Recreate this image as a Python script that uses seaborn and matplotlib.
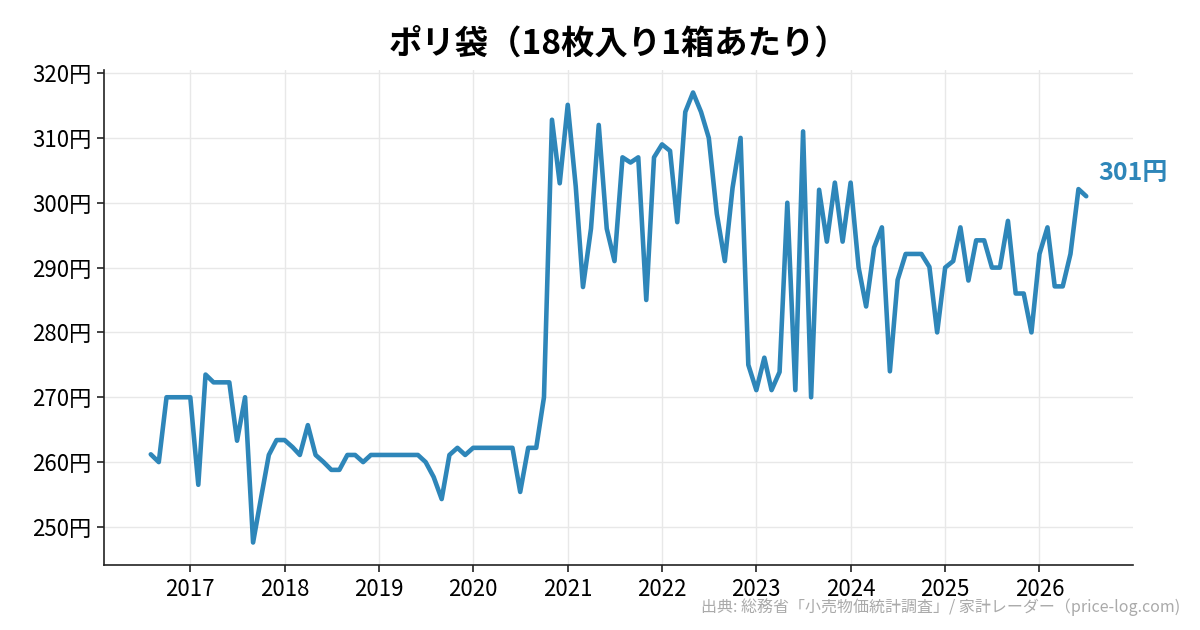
import numpy as np
import pandas as pd
import matplotlib
matplotlib.use("Agg")
import matplotlib.pyplot as plt
import matplotlib.dates as mdates
from matplotlib.ticker import FuncFormatter
import seaborn as sns

title = "ポリ袋（18枚入り1箱あたり）"
source = "出典: 総務省「小売物価統計調査」/ 家計レーダー（price-log.com)"
start_month = "2016-08-01"
prices = [
    # 2016 Aug-Dec
    261.2, 260, 270, 270, 270,
    # 2017
    270, 256.5, 273.5, 272.3, 272.3, 272.3, 263.3, 270, 247.6, 254.3, 261.1, 263.4,
    # 2018
    263.4, 262.3, 261.1, 265.7, 261.1, 260, 258.8, 258.8, 261.1, 261.1, 260, 261.1,
    # 2019
    261.1, 261.1, 261.1, 261.1, 261.1, 261.1, 260, 257.7, 254.3, 261.1, 262.2, 261.1,
    # 2020
    262.2, 262.2, 262.2, 262.2, 262.2, 262.2, 255.4, 262.2, 262.2, 270, 312.8, 303,
    # 2021
    315.1, 302.5, 287, 296, 312, 296, 291, 307, 306.2, 307, 285, 307,
    # 2022
    309, 308, 297, 314, 317, 314, 310, 298.3, 291, 302.3, 310, 275,
    # 2023
    271.1, 276.1, 271.1, 273.9, 300, 271.1, 311, 270, 302, 294, 303.1, 294,
    # 2024
    303.1, 290, 284, 293.1, 296.2, 274, 288.1, 292.1, 292.1, 292.1, 290.1, 280,
    # 2025
    290, 291, 296.2, 288, 294.2, 294.2, 290, 290, 297.2, 286, 286, 280,
    # 2026 Jan-Jul
    292.1, 296.2, 287.1, 287.1, 292.1, 302.1, 301,
]
last_label = "301円"
y_ticks = [250, 260, 270, 280, 290, 300, 310, 320]

dates = pd.date_range(start_month, periods=len(prices), freq="MS")
df = pd.DataFrame({"date": dates, "price": prices})

sns.set_theme(style="whitegrid")
plt.rcParams["font.family"] = ["Noto Sans CJK JP", "DejaVu Sans"]

color = "#2E86B9"
fig = plt.figure(figsize=(12, 6.3), dpi=100)
ax = fig.add_axes([104 / 1200, 65 / 630, (1133 - 104) / 1200, (565 - 70) / 630])

sns.lineplot(data=df, x="date", y="price", ax=ax, color=color, linewidth=3.3)

ax.set_xlabel("")
ax.set_ylabel("")
ax.set_yticks(y_ticks)
ax.yaxis.set_major_formatter(FuncFormatter(lambda v, p: f"{int(round(v))}円"))
ax.xaxis.set_major_locator(mdates.YearLocator())
ax.xaxis.set_major_formatter(mdates.DateFormatter("%Y"))
ax.margins(x=0.05, y=0.05)

ax.grid(True, color="#e8e8e8", linewidth=1)
ax.set_facecolor("white")
for s in ["top", "right"]:
    ax.spines[s].set_visible(False)
for s in ["left", "bottom"]:
    ax.spines[s].set_color("#222222")
    ax.spines[s].set_linewidth(1.2)
ax.tick_params(axis="both", which="major", labelsize=16, colors="#222222",
               length=5, width=1.2, direction="out", left=True, bottom=True, pad=4)
for lab in ax.get_xticklabels() + ax.get_yticklabels():
    lab.set_color("black")

ax.set_title(title, fontsize=24, fontweight="bold", pad=12, color="black")

ax.annotate(last_label, xy=(df["date"].iloc[-1], df["price"].iloc[-1]),
            xytext=(12, 23), textcoords="offset pixels", color=color,
            fontsize=18, fontweight="bold", va="center", ha="left")

fig.text(1180 / 1200, 1 - 607 / 630, source, ha="right", va="center",
         fontsize=11.5, color="#aaaaaa")

fig.savefig("out.png", dpi=100)
